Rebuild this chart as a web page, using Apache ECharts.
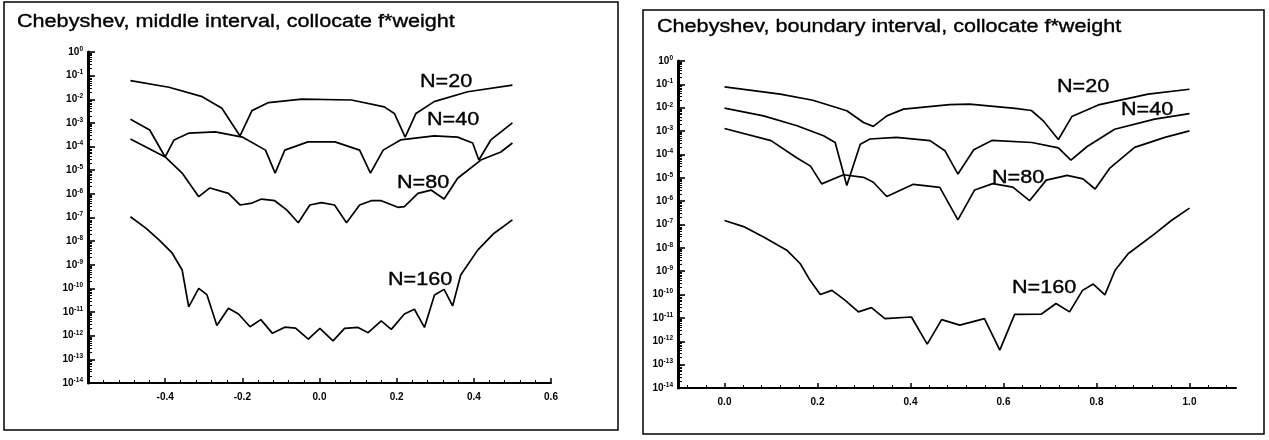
<!DOCTYPE html>
<html>
<head>
<meta charset="utf-8">
<script src="https://cdn.jsdelivr.net/npm/echarts@6/dist/echarts.min.js"></script>
<style>html,body{margin:0;padding:0;background:#fff}#c{width:1269px;height:440px}</style>
</head>
<body>
<div id="c"></div>
<script>
// ---------- DATA (x, log10 of value) ----------
// Left panel: middle interval
const L20_x = [-0.49,-0.39,-0.304,-0.253,-0.206,-0.175,-0.132,-0.046,0.083,0.168,0.194,0.222,0.25,0.297,0.384,0.5];
const L20_e = [-1.21,-1.49,-1.89,-2.38,-3.55,-2.48,-2.14,-1.99,-2.03,-2.32,-2.6,-3.6,-2.6,-2.1,-1.68,-1.4];
const L40_x = [-0.49,-0.44,-0.4,-0.377,-0.338,-0.27,-0.2,-0.14,-0.115,-0.09,-0.03,0.04,0.104,0.132,0.165,0.21,0.297,0.358,0.397,0.413,0.444,0.5];
const L40_e = [-2.84,-3.3,-4.44,-3.72,-3.43,-3.38,-3.6,-4.15,-5.12,-4.15,-3.8,-3.8,-4.15,-5.12,-4.15,-3.72,-3.55,-3.6,-3.85,-4.57,-3.72,-3.0];
const L80_x = [-0.49,-0.4,-0.356,-0.313,-0.284,-0.236,-0.206,-0.175,-0.15,-0.116,-0.085,-0.055,-0.025,0.005,0.039,0.07,0.104,0.134,0.16,0.203,0.22,0.255,0.289,0.323,0.358,0.418,0.47,0.5];
const L80_e = [-3.68,-4.44,-5.12,-6.12,-5.75,-5.98,-6.47,-6.39,-6.22,-6.29,-6.68,-7.22,-6.47,-6.37,-6.47,-7.22,-6.47,-6.29,-6.29,-6.57,-6.54,-5.98,-5.84,-6.22,-5.34,-4.57,-4.23,-3.85];
const L160_x = [-0.49,-0.45,-0.416,-0.382,-0.356,-0.339,-0.313,-0.292,-0.266,-0.236,-0.21,-0.18,-0.152,-0.122,-0.09,-0.062,-0.029,0.001,0.035,0.065,0.1,0.126,0.16,0.186,0.22,0.246,0.272,0.298,0.323,0.345,0.366,0.41,0.45,0.5];
const L160_e = [-6.97,-7.45,-7.95,-8.5,-9.22,-10.78,-10.0,-10.26,-11.57,-10.84,-11.08,-11.62,-11.32,-11.9,-11.64,-11.68,-12.14,-11.69,-12.22,-11.69,-11.65,-11.87,-11.37,-11.73,-11.08,-10.88,-11.65,-10.28,-10.04,-10.74,-9.43,-8.38,-7.7,-7.1];

// Right panel: boundary interval
const R20_x = [0,0.12,0.19,0.263,0.299,0.32,0.349,0.385,0.484,0.527,0.625,0.66,0.685,0.718,0.747,0.804,0.911,1.0];
const R20_e = [-1.11,-1.42,-1.68,-2.13,-2.63,-2.8,-2.35,-2.06,-1.87,-1.85,-2.03,-2.12,-2.55,-3.36,-2.38,-1.88,-1.42,-1.21];
const R40_x = [0,0.084,0.156,0.213,0.238,0.263,0.292,0.313,0.37,0.442,0.474,0.502,0.536,0.575,0.661,0.718,0.745,0.78,0.839,0.925,1.0];
const R40_e = [-2.02,-2.35,-2.77,-3.2,-3.49,-5.33,-3.56,-3.34,-3.27,-3.41,-3.84,-4.84,-3.8,-3.4,-3.49,-3.72,-4.24,-3.66,-2.92,-2.49,-2.25];
const R80_x = [0,0.1,0.156,0.185,0.209,0.256,0.299,0.32,0.349,0.406,0.463,0.502,0.538,0.577,0.62,0.656,0.692,0.737,0.771,0.797,0.828,0.882,0.947,1.0];
const R80_e = [-2.89,-3.41,-4.15,-4.5,-5.26,-4.87,-4.98,-5.19,-5.8,-5.28,-5.41,-6.8,-5.52,-5.25,-5.4,-5.98,-5.1,-4.9,-5.05,-5.48,-4.6,-3.7,-3.27,-2.99];
const R160_x = [0,0.041,0.084,0.134,0.163,0.184,0.206,0.231,0.259,0.288,0.316,0.345,0.402,0.436,0.467,0.506,0.559,0.592,0.624,0.681,0.713,0.742,0.77,0.793,0.818,0.84,0.868,0.925,0.961,1.0];
const R160_e = [-6.83,-7.09,-7.54,-8.1,-8.68,-9.39,-10.0,-9.82,-10.24,-10.74,-10.56,-11.03,-10.96,-12.12,-11.07,-11.31,-11.03,-12.38,-10.85,-10.84,-10.38,-10.74,-9.82,-9.55,-10.01,-8.96,-8.25,-7.4,-6.83,-6.3];

// tick labels
const leftXTicks = [-0.6,-0.4,-0.2,0.0,0.2,0.4,0.6];
const rightXTicks = [0.0,0.2,0.4,0.6,0.8,1.0];
const yDecadeExps = [0,-1,-2,-3,-4,-5,-6,-7,-8,-9,-10,-11,-12,-13,-14];

const titles = ['Chebyshev, middle interval, collocate f*weight', 'Chebyshev, boundary interval, collocate f*weight'];
const seriesNames = ['N=20','N=40','N=80','N=160'];

// ---------- BUILD ----------
const FONT = '"Liberation Sans", Arial, Helvetica, sans-serif';
const pts = (xs, es) => xs.map((x, i) => [x, Math.pow(10, es[i])]);
const decades = yDecadeExps.map(e => Math.pow(10, e));
const yMinor = [];
for (let n = -14; n < 0; n++) for (let k = 2; k <= 9; k++) yMinor.push(k * Math.pow(10, n));
const rMinor = [];
for (let i = -2; i <= 27; i++) { const v = +(i * 0.04).toFixed(2); if (v > -0.1 && v < 1.1 && Math.abs(v / 0.2 - Math.round(v / 0.2)) > 1e-6) rMinor.push(v); }

const black = '#000';
function yMain(grid) {
  return {
    type: 'log', logBase: 10, gridIndex: grid, min: 1e-14, max: 1, position: 'left',
    axisLine: { show: true, onZero: false, lineStyle: { color: black, width: 3 } },
    axisTick: { show: true, inside: true, length: 7, customValues: decades, lineStyle: { color: black, width: 1.6 } },
    axisLabel: {
      show: true, customValues: decades, margin: 5, color: black,
      formatter: v => '{b|10}{s|' + Math.round(Math.log10(v)) + '}',
      rich: {
        b: { fontSize: 10, fontWeight: 'bold', fontFamily: FONT, color: black },
        s: { fontSize: 6.5, fontWeight: 'bold', fontFamily: FONT, color: black, padding: [0, 0, 6, 0] }
      }
    },
    splitLine: { show: false }
  };
}
function yMinorAxis(grid) {
  return {
    type: 'log', logBase: 10, gridIndex: grid, min: 1e-14, max: 1, position: 'left',
    axisLine: { show: false, onZero: false },
    axisTick: { show: true, inside: true, length: 4, customValues: yMinor, lineStyle: { color: black, width: 1 } },
    axisLabel: { show: false }, splitLine: { show: false }
  };
}
const xLabelStyle = { color: black, fontSize: 10, fontWeight: 'bold', fontFamily: FONT, margin: 9, formatter: v => v.toFixed(1) };

const option = {
  backgroundColor: '#fff',
  animation: false,
  grid: [
    { left: 88, top: 52, width: 463, height: 331 },
    { left: 678, top: 61, width: 558, height: 327 }
  ],
  xAxis: [
    { type: 'value', gridIndex: 0, min: -0.6, max: 0.6, interval: 0.2, position: 'bottom',
      axisLine: { show: true, onZero: false, lineStyle: { color: black, width: 2 } },
      axisTick: { show: true, inside: true, length: 5, lineStyle: { color: black, width: 1.5 } },
      minorTick: { show: true, splitNumber: 5, length: 3, lineStyle: { color: black, width: 1 } },
      axisLabel: Object.assign({ showMinLabel: false, showMaxLabel: true }, xLabelStyle),
      splitLine: { show: false } },
    { type: 'value', gridIndex: 1, min: -0.1, max: 1.1, position: 'bottom',
      axisLine: { show: true, onZero: false, lineStyle: { color: black, width: 2 } },
      axisTick: { show: true, inside: true, length: 5, customValues: rightXTicks, lineStyle: { color: black, width: 1.5 } },
      axisLabel: Object.assign({ customValues: rightXTicks }, xLabelStyle),
      splitLine: { show: false } },
    { type: 'value', gridIndex: 1, min: -0.1, max: 1.1, position: 'bottom',
      axisLine: { show: false, onZero: false },
      axisTick: { show: true, inside: true, length: 3, customValues: rMinor, lineStyle: { color: black, width: 1 } },
      axisLabel: { show: false }, splitLine: { show: false } }
  ],
  yAxis: [yMain(0), yMinorAxis(0), yMain(1), yMinorAxis(1)],
  series: [],
  graphic: []
};

const lineSeries = (name, data, xi, yi) => ({
  name, type: 'line', xAxisIndex: xi, yAxisIndex: yi, data, showSymbol: false, symbol: 'none',
  smooth: false, lineStyle: { color: black, width: 1.7 }, silent: true
});
option.series.push(
  lineSeries(seriesNames[0], pts(L20_x, L20_e), 0, 0),
  lineSeries(seriesNames[1], pts(L40_x, L40_e), 0, 0),
  lineSeries(seriesNames[2], pts(L80_x, L80_e), 0, 0),
  lineSeries(seriesNames[3], pts(L160_x, L160_e), 0, 0),
  lineSeries(seriesNames[0], pts(R20_x, R20_e), 1, 2),
  lineSeries(seriesNames[1], pts(R40_x, R40_e), 1, 2),
  lineSeries(seriesNames[2], pts(R80_x, R80_e), 1, 2),
  lineSeries(seriesNames[3], pts(R160_x, R160_e), 1, 2)
);

const txt = (text, x, y, size) => ({
  type: 'text', x, y, scaleX: 1.2, silent: true,
  style: { text, fill: black, stroke: black, lineWidth: 0.35, font: size + 'px ' + FONT, verticalAlign: 'middle', align: 'left' }
});
option.graphic.push(
  { type: 'rect', silent: true, shape: { x: 4, y: 2, width: 614, height: 428 }, style: { fill: 'none', stroke: black, lineWidth: 1.5 } },
  { type: 'rect', silent: true, shape: { x: 643, y: 10, width: 621, height: 424 }, style: { fill: 'none', stroke: black, lineWidth: 1.5 } },
  txt(titles[0], 17, 22, 18),
  txt(titles[1], 657, 27, 18),
  txt(seriesNames[0], 420, 82, 18),
  txt(seriesNames[1], 427, 120, 18),
  txt(seriesNames[2], 397, 183, 18),
  txt(seriesNames[3], 388, 280, 18),
  txt(seriesNames[0], 1057, 87, 18),
  txt(seriesNames[1], 1121, 110, 18),
  txt(seriesNames[2], 992, 178, 18),
  txt(seriesNames[3], 1012, 288, 18)
);

const chart = echarts.init(document.getElementById('c'), null, { renderer: 'canvas' });
chart.setOption(option);
</script>
</body>
</html>
